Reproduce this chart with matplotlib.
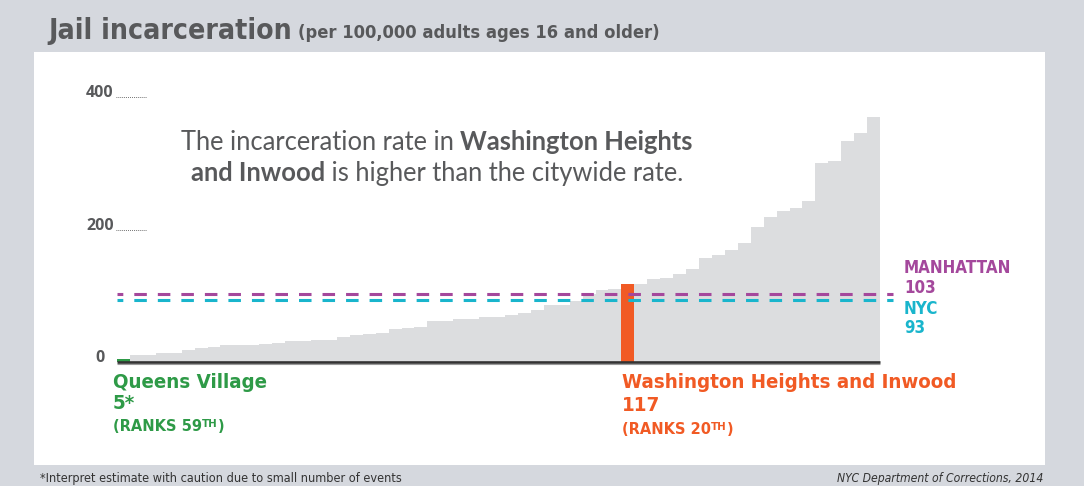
import numpy as np
import matplotlib
matplotlib.use('Agg')
import matplotlib.pyplot as plt
from matplotlib.patches import Rectangle
import matplotlib.transforms as mtransforms
from matplotlib import font_manager as fm

# ---------------- data ----------------
rates = [5, 11, 11, 14, 14, 18, 21, 23, 25, 25, 25, 27, 29, 31, 31, 33, 33, 37, 41, 42,
         44, 50, 51, 53, 62, 62, 65, 65, 68, 68, 71, 74, 78, 86, 86, 92, 103, 109, 110, 117,
         117, 125, 127, 133, 140, 157, 162, 169, 180, 204, 219, 228, 233, 243, 301, 304, 334, 346, 370]
ranks = list(range(len(rates), 0, -1))          # leftmost bar ranks 59th, rightmost 1st
qv_name, qv_rate, qv_rank = "Queens Village", 5, 59
wh_name, wh_rate, wh_rank = "Washington Heights and Inwood", 117, 20
manhattan_label, manhattan_rate = "MANHATTAN", 103
nyc_label, nyc_rate = "NYC", 93
yticks = [0, 200, 400]

title = "Jail incarceration"
subtitle = "(per 100,000 adults ages 16 and older)"
note = "*Interpret estimate with caution due to small number of events"
source = "NYC Department of Corrections, 2014"

# ---------------- style ----------------
BG = '#d5d8de'
GRAY_BAR = '#dcdddf'
GREEN = '#2e9a47'
ORANGE = '#f15a24'
PURPLE = '#a4489c'
CYAN = '#19b5cc'
TXT = '#58595b'
REG = ['Lato', 'DejaVu Sans']


def pick_condensed(bold, italic):
    best, best_score = None, -1
    for f in fm.fontManager.ttflist:
        key = (f.name + ' ' + f.fname).lower()
        is_cond = ('narrow' in key or 'condensed' in key or
                   str(f.stretch).lower() in ('condensed', 'semi-condensed', 'semicondensed'))
        if not is_cond:
            continue
        if 'extra' in key or 'ultra' in key or 'semi' in key:
            continue
        w = f.weight if isinstance(f.weight, int) else (700 if 'bold' in str(f.weight) else 400)
        fb = w >= 600
        fi = f.style in ('italic', 'oblique')
        if fb != bold or fi != italic:
            continue
        if 'black' in key or 'light' in key or 'thin' in key or 'medium' in key:
            continue
        score = 1
        if 'liberation' in key:
            score = 4
        elif 'dejavu' in key:
            score = 3
        elif 'noto' in key:
            score = 2
        if score > best_score:
            best, best_score = f.fname, score
    if best is None:
        return fm.FontProperties(family=['Roboto', 'DejaVu Sans'],
                                 weight='bold' if bold else 'normal',
                                 style='italic' if italic else 'normal')
    return fm.FontProperties(fname=best)


FP_B = pick_condensed(True, False)
FP_R = pick_condensed(False, False)
FP_I = pick_condensed(False, True)


def fp(base, size):
    p = base.copy()
    p.set_size(size)
    return p


W, H = 1084, 486
fig = plt.figure(figsize=(W / 100, H / 100), dpi=100)
fig.patch.set_facecolor(BG)


def fx(px):
    return px / W


def fy(py):
    return 1 - py / H


fig.add_artist(Rectangle((fx(34), fy(465)), (1045 - 34) / W, (465 - 52) / H,
                         transform=fig.transFigure, facecolor='white', edgecolor='none', zorder=0))

ax = fig.add_axes([fx(117), fy(362), (893 - 117) / W, (362 - 97) / H])
ax.set_xlim(0, 60)
ax.set_ylim(0, 400)
ax.axis('off')
ax.patch.set_alpha(0)

n = len(rates)
idx_qv = n - qv_rank
idx_wh = n - wh_rank
colors = [GRAY_BAR] * n
colors[idx_qv] = GREEN
colors[idx_wh] = ORANGE
ax.bar(np.arange(n), rates, width=1.0, align='edge', color=colors, linewidth=0, zorder=2)
ax.plot([0, n], [0, 0], color='#333333', lw=1.9, solid_capstyle='butt', zorder=4, clip_on=False)
ax.plot([0, n], [-2.6, -2.6], color='#9a9a9a', lw=0.8, solid_capstyle='butt', zorder=3, clip_on=False)

# reference lines
ax.plot([0, 60], [manhattan_rate, manhattan_rate], color=PURPLE, lw=2.2,
        linestyle=(2.2, (4.1, 3.6)), zorder=5, clip_on=False)
ax.plot([0, 60], [nyc_rate, nyc_rate], color=CYAN, lw=2.2,
        linestyle=(2.2, (4.1, 3.6)), zorder=5, clip_on=False)

# y tick labels
blend = mtransforms.blended_transform_factory(fig.transFigure, ax.transData)
for v in yticks:
    ax.text(fx(100), v, f"{v}", transform=blend, ha='center', va='baseline',
            fontsize=11.5, fontweight='bold', color=TXT, family=['Open Sans', 'DejaVu Sans'])
    if v > 0:
        ax.plot([fx(116), fx(147)], [v, v], transform=blend, color='#555555', lw=0.7,
                linestyle=(0, (0.8, 1.2)), clip_on=False)

renderer = fig.canvas.get_renderer()


def ftext(x, y, s, **kw):
    kw.setdefault('va', 'baseline')
    return fig.text(fx(x), fy(y), s, **kw)


def fit(t, width_px):
    bb = t.get_window_extent(renderer)
    p = t.get_fontproperties().copy()
    p.set_size(p.get_size() * width_px / bb.width)
    t.set_fontproperties(p)
    return t


def seq(x, y, parts):
    """parts: list of (string, kwargs, dy_px)"""
    cur = x
    arts = []
    for s, kw, dy in parts:
        t = ftext(cur, y - dy, s, **kw)
        bb = t.get_window_extent(renderer)
        cur += bb.width
        arts.append(t)
    return arts, cur - x


# title
t = ftext(48, 39, title, fontproperties=fp(FP_B, 22), color=TXT)
fit(t, 242)
t = ftext(298, 38, subtitle, fontproperties=fp(FP_B, 13), color=TXT)
fit(t, 362)

# annotation with mixed bold
AS = 18.4
line1 = [("The incarceration rate in ", dict(fontsize=AS, color=TXT, family=REG), 0),
         ("Washington Heights", dict(fontsize=AS, color=TXT, family=REG, fontweight='bold'), 0)]
line2 = [("and Inwood", dict(fontsize=AS, color=TXT, family=REG, fontweight='bold'), 0),
         (" is higher than the citywide rate.", dict(fontsize=AS, color=TXT, family=REG), 0)]
for parts, yb, cx in [(line1, 150, 437), (line2, 181, 437)]:
    arts, w = seq(0, yb, parts)
    shift = cx - w / 2
    for a in arts:
        x0, y0 = a.get_position()
        a.set_position((x0 + fx(shift), y0))

# right labels
t = ftext(904, 273, manhattan_label, fontproperties=fp(FP_B, 12), color=PURPLE)
fit(t, 107)
rs = t.get_fontproperties().get_size()
ftext(904, 293, f"{manhattan_rate}", fontproperties=fp(FP_B, rs), color=PURPLE)
ftext(904, 314, nyc_label, fontproperties=fp(FP_B, rs), color=CYAN)
ftext(904, 333, f"{nyc_rate}", fontproperties=fp(FP_B, rs), color=CYAN)

# bottom labels
for name, rate, rank, col, x0, ys, wpx in [
        (qv_name, f"{qv_rate}*", qv_rank, GREEN, 113, (388, 409, 431), 155),
        (wh_name, f"{wh_rate}", wh_rank, ORANGE, 622, (388, 411, 434), 336)]:
    t = ftext(x0, ys[0], name, fontproperties=fp(FP_B, 15), color=col)
    fit(t, wpx)
    bs = t.get_fontproperties().get_size()
    ftext(x0, ys[1], rate, fontproperties=fp(FP_B, bs), color=col)
    seq(x0, ys[2], [(f"(RANKS {rank}", dict(fontproperties=fp(FP_B, bs * 0.8), color=col), 0),
                    ("TH", dict(fontproperties=fp(FP_B, bs * 0.56), color=col), 4.5),
                    (")", dict(fontproperties=fp(FP_B, bs * 0.8), color=col), 0)])

# footer
t = ftext(40, 482, note, fontproperties=fp(FP_R, 10), color='#333333')
fit(t, 362)
t = ftext(1043, 482, source, fontproperties=fp(FP_I, 10), color='#333333', ha='right')
fit(t, 207)

fig.savefig('out.png', dpi=100, facecolor=BG)
